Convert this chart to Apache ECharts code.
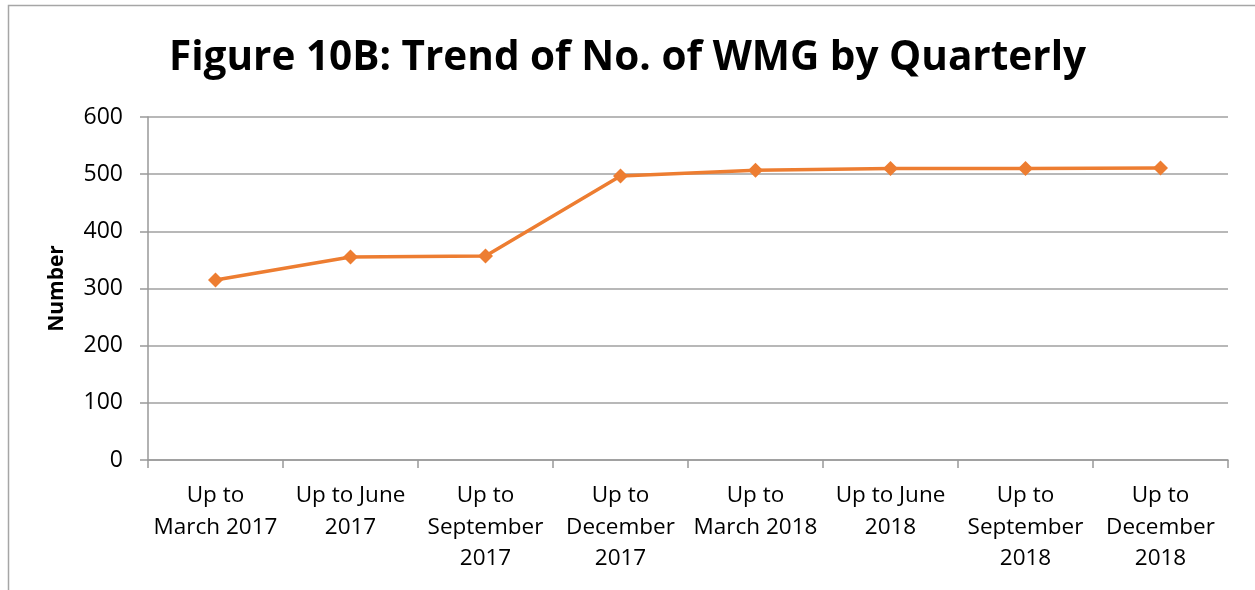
<!DOCTYPE html>
<html style="height: 100%; width: 100%">
  <head>
    <meta charset="utf-8" />
  </head>
  <body style="height: 100%; width: 100%; margin: 0">
    <div id="chart-panel" style="height: 590px; width: 1255px"></div>
    <script type="text/javascript" src="https://cdn.jsdelivr.net/npm/echarts@6/dist/echarts.min.js"></script>
    <script type="text/javascript">
      var categories = [
        "Up to\nMarch 2017",
        "Up to June\n2017",
        "Up to\nSeptember\n2017",
        "Up to\nDecember\n2017",
        "Up to\nMarch 2018",
        "Up to June\n2018",
        "Up to\nSeptember\n2018",
        "Up to\nDecember\n2018"
      ];
      var wmgCount = [315, 355, 357, 497, 507, 510, 510, 511];
      var yTicks = [0, 100, 200, 300, 400, 500, 600];

      var font = "Open Sans";
      var myChart = echarts.init(document.getElementById("chart-panel"));
      var option = {
        backgroundColor: "#fff",
        title: {
          text: "Figure 10B: Trend of No. of WMG by Quarterly",
          left: "center",
          top: 33,
          textStyle: { fontFamily: font, fontWeight: "bold", fontSize: 40.5, color: "#000" }
        },
        graphic: [
          {
            type: "rect",
            shape: { x: 8.5, y: 5.5, width: 1400, height: 800 },
            style: { fill: "none", stroke: "#a6a6a6", lineWidth: 1.5 },
            silent: true
          }
        ],
        grid: { left: 148, right: 27, top: 117, bottom: 130, containLabel: false },
        xAxis: {
          type: "category",
          data: categories,
          boundaryGap: true,
          axisLine: { lineStyle: { color: "#999", width: 1.5 } },
          axisTick: { show: true, length: 8, lineStyle: { color: "#999", width: 1.5 } },
          axisLabel: {
            interval: 0,
            margin: 20,
            fontFamily: font,
            fontSize: 22.5,
            lineHeight: 31.5,
            color: "#000"
          }
        },
        yAxis: {
          type: "value",
          min: yTicks[0],
          max: yTicks[yTicks.length - 1],
          interval: 100,
          name: "Number",
          nameLocation: "middle",
          nameGap: 80,
          nameTextStyle: { fontFamily: font, fontWeight: "bold", fontSize: 21, color: "#000" },
          axisLine: { show: true, lineStyle: { color: "#999", width: 1.5 } },
          axisTick: { show: true, length: 8, lineStyle: { color: "#999", width: 1.5 } },
          axisLabel: { margin: 25, fontFamily: font, fontSize: 23, color: "#000" },
          splitLine: { lineStyle: { color: "#a0a0a0", width: 1.5 } }
        },
        series: [
          {
            type: "line",
            data: wmgCount,
            symbol: "diamond",
            symbolSize: 15,
            lineStyle: { color: "#ED7D31", width: 3.5 },
            itemStyle: { color: "#ED7D31" },
            animation: false
          }
        ]
      };
      myChart.setOption(option);
    </script>
  </body>
</html>
